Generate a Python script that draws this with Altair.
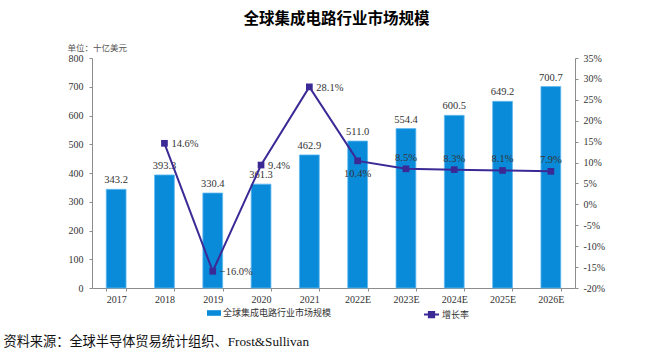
import altair as alt
import pandas as pd

years = ["2017", "2018", "2019", "2020", "2021", "2022E", "2023E", "2024E", "2025E", "2026E"]
market = [343.2, 393.3, 330.4, 361.3, 462.9, 511.0, 554.4, 600.5, 649.2, 700.7]
growth = [None, 14.6, -16.0, 9.4, 28.1, 10.4, 8.5, 8.3, 8.1, 7.9]

bar_name = "全球集成电路行业市场规模"
line_name = "增长率"
title_text = "全球集成电路行业市场规模"
unit_text = "单位：十亿美元"
source_text = "资料来源：全球半导体贸易统计组织、Frost&Sullivan"

left_ticks = [0, 100, 200, 300, 400, 500, 600, 700, 800]
right_ticks = [-20, -15, -10, -5, 0, 5, 10, 15, 20, 25, 30, 35]

right_label_years = ["2018", "2019", "2020", "2021"]
below_label_years = ["2022E"]
above_label_years = ["2023E", "2024E", "2025E", "2026E"]

BAR = "#0A8BDA"
LINE = "#3B2A96"
TXT = "#333333"
AX = "#8c8c8c"
SERIF = "Liberation Serif, Noto Sans CJK SC"
CJK = "Noto Sans CJK SC"

df = pd.DataFrame({"year": years, "market": market, "growth": growth})
df["s1"] = bar_name
df["s2"] = line_name

base = alt.Chart(df)

x_axis = alt.Axis(
    title=source_text, titleX=-89, titleY=53, titleAlign="left",
    titleBaseline="middle", titleFont=SERIF, titleFontSize=13.2,
    titleFontWeight="normal", titleColor="#111111",
    labelAngle=0, tickBand="extent", labelFont=SERIF, labelFontSize=10,
    labelColor=TXT, domainColor=AX, tickColor=AX, tickSize=3,
    labelPadding=3,
)
x_scale = alt.Scale(paddingInner=0.59, paddingOuter=0.295)

def xenc():
    return alt.X("year:N", sort=years, scale=x_scale, axis=x_axis)

left_axis = alt.Axis(
    orient="left", values=left_ticks, grid=False,
    title=unit_text, titleAngle=0, titleX=-25, titleY=-11,
    titleAlign="left", titleBaseline="middle", titleFont=CJK,
    titleFontSize=8.5, titleFontWeight="normal", titleColor="#555555",
    labelFont=SERIF, labelFontSize=10, labelColor=TXT,
    domainColor=AX, tickColor=AX, tickSize=3, labelPadding=6,
)
right_axis = alt.Axis(
    orient="right", values=right_ticks, grid=False, title=None,
    labelExpr="datum.value + '%'", labelFont=SERIF, labelFontSize=10,
    labelColor=TXT, domainColor=AX, tickColor=AX, tickSize=3,
    labelPadding=5,
)

yleft = alt.Scale(domain=[0, 800], nice=False)
yright = alt.Scale(domain=[-20, 35], nice=False)

bars = base.mark_bar(stroke="#62BAF0", strokeWidth=0.8).encode(
    x=xenc(),
    y=alt.Y("market:Q", scale=yleft, axis=left_axis),
    fill=alt.Fill("s1:N", scale=alt.Scale(domain=[bar_name], range=[BAR]),
                  legend=alt.Legend(
                      title=None, orient="none", legendX=115, legendY=248,
                      symbolType="M-1,-0.4H1V0.4H-1Z", symbolSize=196,
                      symbolStrokeWidth=0, labelFont=CJK, labelFontSize=9,
                      labelColor=TXT, labelOffset=2, padding=0,
                  )),
)

bar_text = base.mark_text(dy=-9, font=SERIF, fontSize=10.5, color=TXT).encode(
    x=xenc(),
    y=alt.Y("market:Q", scale=yleft, axis=left_axis),
    text=alt.Text("market:Q", format=".1f"),
)

left_layer = alt.layer(bars, bar_text)

gbase = base.transform_filter("isValid(datum.growth)")

line = gbase.mark_line(strokeWidth=2).encode(
    x=xenc(),
    y=alt.Y("growth:Q", scale=yright, axis=right_axis),
    stroke=alt.Stroke("s2:N", scale=alt.Scale(domain=[line_name], range=[LINE]),
                      legend=alt.Legend(
                          title=None, orient="none", legendX=331, legendY=248,
                          symbolType="M-1,0H1M-0.35,-0.35H0.35V0.35H-0.35Z",
                          symbolSize=225, symbolStrokeWidth=2,
                          symbolFillColor=LINE,
                          labelFont=CJK, labelFontSize=9, labelColor=TXT,
                          labelOffset=2, padding=0,
                      )),
)

points = gbase.mark_point(shape="square", filled=True, size=45, color=LINE, opacity=1).encode(
    x=xenc(),
    y=alt.Y("growth:Q", scale=yright, axis=right_axis),
)

def glabels(yrs, **kw):
    return gbase.transform_filter(
        alt.FieldOneOfPredicate(field="year", oneOf=yrs)
    ).transform_calculate(
        lab="format(datum.growth, '.1f') + '%'"
    ).mark_text(font=SERIF, fontSize=10.5, color=TXT, **kw).encode(
        x=xenc(),
        y=alt.Y("growth:Q", scale=yright, axis=right_axis),
        text="lab:N",
    )

lab_right = glabels(right_label_years, align="left", dx=7, dy=1)
lab_below = glabels(below_label_years, dy=13)
lab_above = glabels(above_label_years, dy=-11)

right_layer = alt.layer(line, points, lab_right, lab_below, lab_above)

chart = alt.layer(left_layer, right_layer).resolve_scale(
    y="independent"
).properties(
    width=483, height=230,
    background="white",
    padding={"left": 92, "top": 58, "right": 87, "bottom": 65},
    autosize=alt.AutoSizeParams(type="none"),
    title=alt.TitleParams(title_text, font=CJK, fontSize=15.5, fontWeight="bold",
                          color="#000000", anchor="middle", offset=16, dx=3),
).configure_view(stroke=None)

chart.save("out.html", embed_options={"renderer": "svg", "actions": False})
